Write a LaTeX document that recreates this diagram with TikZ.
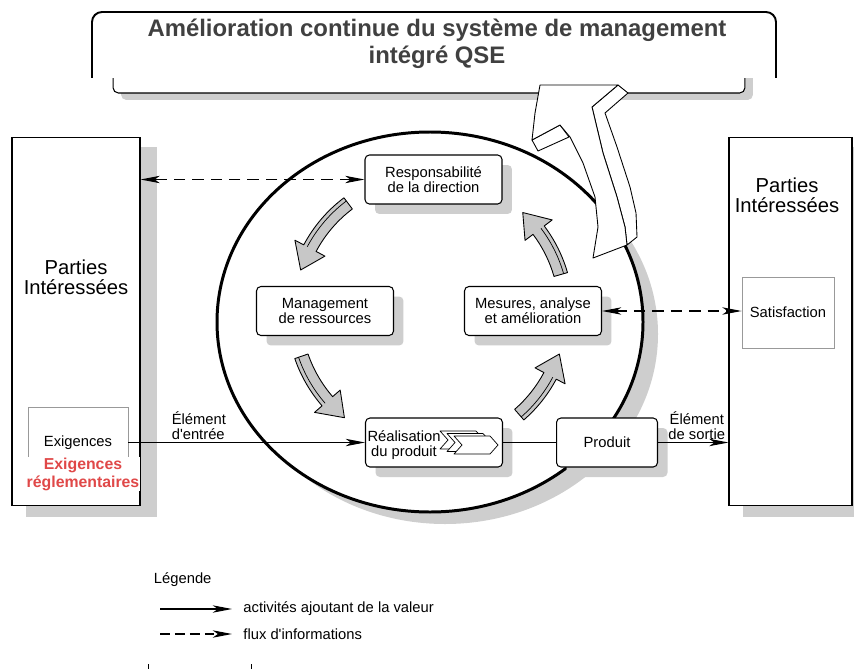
\documentclass[tikz,border=0pt]{standalone}
\usepackage{fontspec}
\setmainfont{Liberation Sans}
\usetikzlibrary{arrows.meta,positioning,shadows}
\definecolor{regred}{RGB}{224,72,72}
\definecolor{titlegray}{RGB}{64,64,64}
\definecolor{shadowgray}{RGB}{206,206,206}

\begin{document}
\begin{tikzpicture}[
    x=0.02cm, y=-0.02cm,
    >={Stealth[length=11pt, width=4.2pt, inset=3pt]},
    lbl/.style={font=\fontsize{8.4}{8.6}\selectfont, align=center, inner sep=1.5pt},
    proc/.style={draw, fill=white, rounded corners=2.5pt, line width=0.6pt,
      minimum width=2.74cm, minimum height=0.98cm, inner sep=0pt, align=center,
      font=\fontsize{8.4}{8.6}\selectfont,
      drop shadow={shadow xshift=0.2cm, shadow yshift=-0.2cm, fill=shadowgray, opacity=1}},
    party/.style={draw, fill=white, line width=0.6pt, inner sep=0pt,
      minimum width=2.5cm, minimum height=7.38cm},
    partytxt/.style={font=\fontsize{11.5}{11.5}\selectfont, align=center},
    subbox/.style={draw=black!40, fill=white, line width=0.5pt, inner sep=0pt,
      minimum width=2cm, minimum height=1.42cm, font=\fontsize{8.4}{8.6}\selectfont},
    value/.style={line width=0.6pt, ->},
    info/.style={line width=0.6pt, dash pattern=on 6.5pt off 4pt, <->},
    cyc/.style={draw, fill=black!22, line width=0.5pt, line join=round},
    ribbon/.style={draw, fill=white, line width=0.5pt, line join=round}
  ]
  \node[draw, fill=white, rounded corners=3pt, line width=0.6pt,
    minimum width=12.64cm, minimum height=1.06cm,
    drop shadow={shadow xshift=0.16cm, shadow yshift=-0.14cm, fill=shadowgray, opacity=1}] (scroll) at (429,66.5) {};
  \draw[fill=white, line width=1.1pt, rounded corners=0.2cm] (92,78) -- (92,12) -- (776,12) -- (776,78);
  \node[font=\fontsize{13.6}{15.4}\selectfont\bfseries, text=titlegray, align=center] (title) at (437,43.5)
    {Amélioration continue du système de management\\intégré QSE};

  \fill[shadowgray] (26,147) rectangle (157,517);
  \fill[shadowgray] (743,147) rectangle (854,517);
  \node[party, minimum width=2.56cm] (lpart) at (76,321.5) {};
  \node[party, minimum width=2.46cm] (rpart) at (790.5,321.5) {};
  \node[partytxt] (ltxt) at (76,277) {Parties\\Intéressées};
  \node[partytxt] (rtxt) at (787,195) {Parties\\Intéressées};
  \node[subbox] (exig) at (78,442.5) {Exigences};
  \node[font=\fontsize{9}{10.2}\selectfont\bfseries, text=regred, align=center, fill=white, inner sep=0.5pt] (regl) at (83,474)
    {Exigences\\réglementaires};
  \node[subbox, minimum width=1.84cm] (satis) at (788,312.5) {Satisfaction};

  \fill[shadowgray] (445,334) ellipse [x radius=213, y radius=190];
  \draw[line width=1.7pt, fill=white] (430,322) ellipse [x radius=213, y radius=190];

  \node[proc] (resp) at (433.5,179.5) {Responsabilité\\de la direction};
  \node[proc] (mgmt) at (325,311) {Management\\de ressources};
  \node[proc] (mes) at (533,311) {Mesures, analyse\\et amélioration};
  \node[proc] (real) at (434,442.5) {};
  \node[proc, minimum width=2.02cm, right=1.06cm of real] (prod) {Produit};
  \node[lbl, inner sep=0pt] (realtxt) at (404,445) {Réalisation\\du produit};
  \foreach \dx/\dy in {-14/-5, -7/-2.5, 0/0}
    \draw[fill=white, line width=0.4pt, line join=round] (454+\dx,436+\dy) -- ++(36,0) -- ++(8,9) -- ++(-8,9) -- ++(-36,0) -- ++(8,-9) -- cycle;

  \begin{scope}[shift={(430,312)}]
    \foreach \a/\b in {127/162, 199/231, 311/342, 16/47} {
      \draw[cyc] (-\a:129) arc[start angle=-\a, end angle=10-\b, radius=129] -- ({10-\b}:119) -- (-\b:136)
        -- ({10-\b}:153) -- ({10-\b}:143) arc[start angle=10-\b, end angle=-\a, radius=143] -- cycle;
      \draw[line width=0.4pt] (-\a:139) arc[start angle=-\a, end angle=10-\b, radius=139];
    }
  \end{scope}

  \draw[ribbon] (618,85) -- (628,93) -- (605,113) -- (617,147) -- (630,187) -- (636,213) -- (637,237) -- (627,245)
    -- (625,227) -- (617,197) -- (603,153) -- (592,107) -- cycle;
  \draw[ribbon] (532,140) -- (538,151) -- (569,137) -- (560,125) -- cycle;
  \draw[ribbon] (540,85) -- (618,85) -- (592,107) -- (603,153) -- (617,197) -- (625,227) -- (627,245) -- (593,258)
    -- (598,227) -- (595,197) -- (583,163) -- (570,137) -- (560,125) -- (532,140) -- (535,113) -- cycle;

  \draw[info] (resp.west) -- (resp.west -| lpart.east);
  \draw[info] (mes.east) -- (mes.east -| satis.west);
  \draw[value] (exig.east) -- (real.west) node[lbl, above right, pos=0.17, align=left] {Élément\\d\textquotesingle entrée};
  \draw[line width=0.6pt] (real.east) -- (prod.west);
  \draw[value] (prod.east) -- (prod.east -| rpart.west) node[lbl, above, pos=0.55] {Élément\\de sortie};

  \node[lbl, anchor=west] (leg) at (151,580) {Légende};
  \coordinate (v0) at (160,609);
  \coordinate (v1) at (232,609);
  \node[lbl, right=0.17cm of v1] (vtxt) {activités ajoutant de la valeur};
  \draw[value] (v0) -- (v1);
  \coordinate (i0) at (160,634);
  \coordinate (i1) at (232,634);
  \node[lbl, right=0.17cm of i1] (itxt) {flux d\textquotesingle informations};
  \draw[value, dash pattern=on 5.5pt off 3pt] (i0) -- (i1);
  \draw[line width=0.5pt] (148,664) -- (148,669);
  \draw[line width=0.5pt] (251,664) -- (251,669);
  \pgfresetboundingbox
  \useasboundingbox (0,0) rectangle (854,669);
\end{tikzpicture}
\end{document}
